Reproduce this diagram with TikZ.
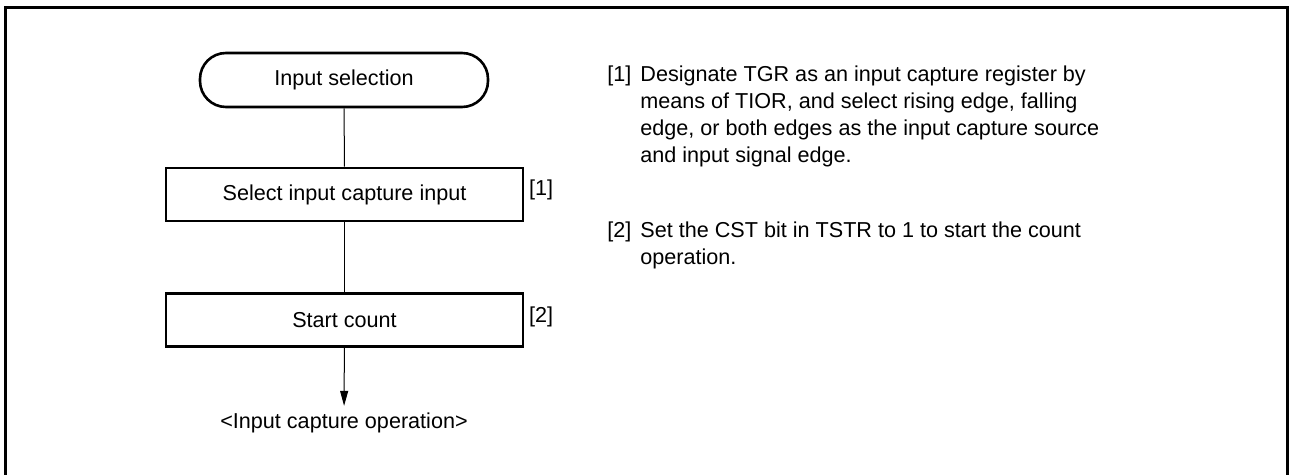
\documentclass[tikz,border=0pt]{standalone}
\usepackage{fontspec}
\setmainfont{Liberation Sans}
\usetikzlibrary{positioning,arrows.meta}
\tikzset{
    >={Triangle[length=7.5pt,width=4pt]},
    terminal/.style={
        rectangle,
        rounded corners=13pt,
        draw,
        line width=1.3pt,
        minimum width=144pt,
        minimum height=27pt,
        inner sep=0pt
    },
    procbox/.style={
        rectangle,
        draw,
        line width=1.3pt,
        minimum width=178.5pt,
        minimum height=26.5pt,
        inner sep=0pt
    },
    note/.style={anchor=north west, inner sep=0pt, align=left},
    line/.style={draw, line width=0.5pt},
    font={\fontsize{10.8pt}{13.5pt}\selectfont},
}

\begin{document}
\begin{tikzpicture}[x=0.5pt, y=-0.5pt]
\useasboundingbox (0,0) rectangle (1289,475);
% frame, open at the bottom
\draw[line width=1.5pt] (5,475) -- (5,8) -- (1287,8) -- (1287,475);

\node[terminal] (insel) at (344,80) {Input selection};
\node[procbox] (selcap) at (344.5,194.5) {Select input capture input};
\node[procbox] (startcnt) at (344.5,320) {Start count};
\node (capop) at (344,423) {<Input capture operation>};

\node[anchor=west] (tag1) at (522,190) {[1]};
\node[anchor=west] (tag2) at (522,317) {[2]};

\draw[line] (insel) -- (selcap);
\draw[line] (selcap) -- (startcnt);
\draw[line,->] (startcnt) -- (capop);

% notes on the right
\node[note] (n1tag) at (607,65) {[1]};
\node[note] (n1txt) at (640,65) {Designate TGR as an input capture register by\\
    means of TIOR, and select rising edge, falling\\
    edge, or both edges as the input capture source\\
    and input signal edge.};
\node[note] (n2tag) at (607,221) {[2]};
\node[note] (n2txt) at (640,221) {Set the CST bit in TSTR to 1 to start the count\\
    operation.};
\end{tikzpicture}
\end{document}
